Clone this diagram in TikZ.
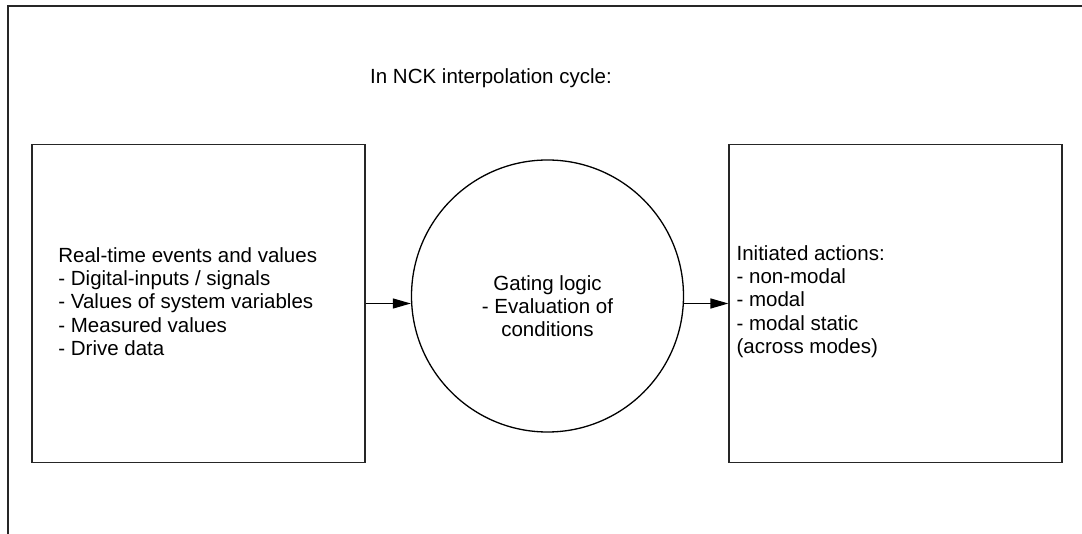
\documentclass[tikz,border=0pt]{standalone}
\usepackage{fontspec}
\setmainfont{Liberation Sans}
\usetikzlibrary{arrows.meta}
\begin{document}
\begin{tikzpicture}[x=1pt,y=-1pt,
  frame/.style={line width=1.8pt,black!85},
  boxnode/.style={draw,line width=1.6pt,black!85,rectangle,minimum width=333pt,minimum height=318pt,inner sep=0pt},
  circnode/.style={draw,line width=1.3pt,circle,minimum size=272pt,inner sep=0pt},
  lbl/.style={font=\fontsize{20.5}{23.3}\selectfont,inner sep=0pt},
  arr/.style={line width=1.3pt,-{Triangle[length=18pt,width=10pt]}}]
\useasboundingbox (0,0) rectangle (1082,534);
\coordinate (fbl) at (8,534);
\coordinate (ftl) at (8,6);
\coordinate (ftr) at (1082,6);
\draw[frame] (fbl) -- (ftl) -- (ftr);
\node[lbl,anchor=base west] (title) at (370,84) {In NCK interpolation cycle:};
\node[boxnode] (L) at (198.5,303.5) {};
\node[boxnode] (R) at (895.7,303.5) {};
\node[circnode] (C) at (547.5,296) {};
\node[lbl,anchor=west,align=left] (Ltxt) at ([xshift=27pt,yshift=2pt]L.west) {Real-time events and values\\- Digital-inputs / signals\\- Values of system variables\\- Measured values\\- Drive data};
\node[lbl,anchor=west,align=left] (Rtxt) at ([xshift=8pt,yshift=2pt]R.west) {Initiated actions:\\- non-modal\\- modal\\- modal static\\(across modes)};
\node[lbl,align=center] (Ctxt) at (547.5,306) {Gating logic\\- Evaluation of\\conditions};
\draw[arr] (L.east) -- (L.east -| C.west);
\draw[arr] (C.east |- R.west) -- (R.west);
\end{tikzpicture}
\end{document}
